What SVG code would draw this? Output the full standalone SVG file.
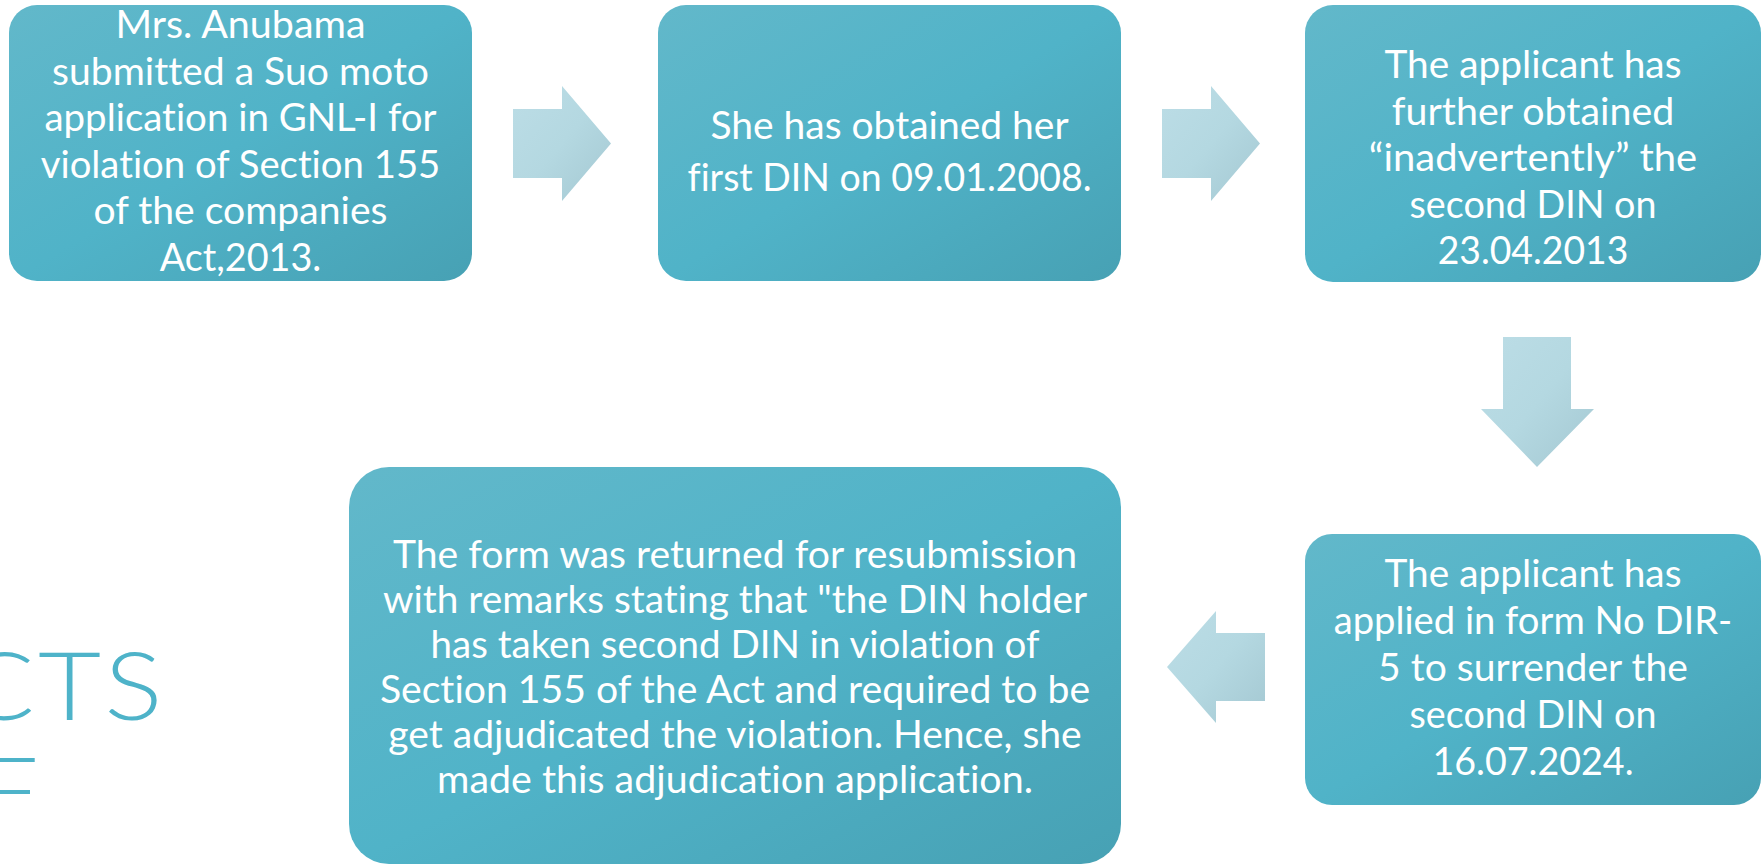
<svg xmlns="http://www.w3.org/2000/svg" width="1763" height="866" viewBox="0 0 1763 866">
  <defs>
    <linearGradient id="boxFill" x1="0" y1="0" x2="1" y2="1">
      <stop offset="0" stop-color="#62b8ca"/>
      <stop offset="0.5" stop-color="#50b3c8"/>
      <stop offset="1" stop-color="#47a1b4"/>
    </linearGradient>
    <linearGradient id="arrowFill" x1="0" y1="0" x2="1" y2="1">
      <stop offset="0" stop-color="#bcdde6"/>
      <stop offset="0.5" stop-color="#b4d8e1"/>
      <stop offset="1" stop-color="#a4c8d2"/>
    </linearGradient>
    <style>
      .box { fill: url(#boxFill); }
      .arrow { fill: url(#arrowFill); }
      .label { fill: #ffffff; font-family: Lato, "Liberation Sans", sans-serif; font-size: 38.5px; text-anchor: middle; font-variant-ligatures: none; }
      .title { fill: #4eb3c9; font-family: Lato, "Liberation Sans", sans-serif; font-weight: 300; font-size: 94px; text-anchor: end; }
    </style>
  </defs>

  <rect width="1763" height="866" fill="#ffffff"/>

  <!-- heading, partly past the left edge -->
  <g id="title">
    <text class="title" transform="translate(166,720) scale(1.16,1)" letter-spacing="3">FACTS</text>
    <text class="title" x="38" y="825">OF</text>
  </g>

  <!-- connectors -->
  <g id="connectors">
    <polygon class="arrow" points="513,109 562,109 562,86 611,143.5 562,201 562,178 513,178"/>
    <polygon class="arrow" points="1162,109 1211,109 1211,86 1260,143.5 1211,201 1211,178 1162,178"/>
    <polygon class="arrow" points="1503,337 1571,337 1571,409 1594,409 1537,467 1481,409 1503,409"/>
    <polygon class="arrow" points="1265,633 1265,701 1216,701 1216,723 1167,667 1216,611 1216,633"/>
  </g>

  <g id="node1">
    <rect class="box" x="9" y="5" width="463" height="276" rx="28"/>
    <text class="label" x="240.5" y="38" textLength="250" lengthAdjust="spacingAndGlyphs">Mrs. Anubama</text>
    <text class="label" x="240.5" y="84.5" textLength="377" lengthAdjust="spacingAndGlyphs">submitted a Suo moto</text>
    <text class="label" x="240.5" y="131" textLength="392" lengthAdjust="spacingAndGlyphs">application in GNL-I for</text>
    <text class="label" x="240.5" y="177.5" textLength="399.6" lengthAdjust="spacingAndGlyphs">violation of Section 155</text>
    <text class="label" x="240.5" y="224" textLength="294" lengthAdjust="spacingAndGlyphs">of the companies</text>
    <text class="label" x="240.5" y="270.5" textLength="161.6" lengthAdjust="spacingAndGlyphs">Act,2013.</text>
  </g>

  <g id="node2">
    <rect class="box" x="658" y="5" width="463" height="276" rx="28"/>
    <text class="label" x="889.5" y="139" textLength="358.2" lengthAdjust="spacingAndGlyphs">She has obtained her</text>
    <text class="label" x="889.5" y="191" textLength="404" lengthAdjust="spacingAndGlyphs">first DIN on 09.01.2008.</text>
  </g>

  <g id="node3">
    <rect class="box" x="1305" y="5" width="456" height="277" rx="28"/>
    <text class="label" x="1533" y="78" textLength="297" lengthAdjust="spacingAndGlyphs">The applicant has</text>
    <text class="label" x="1533" y="124.5" textLength="282.4" lengthAdjust="spacingAndGlyphs">further obtained</text>
    <text class="label" x="1533" y="171" textLength="328.3" lengthAdjust="spacingAndGlyphs">“inadvertently” the</text>
    <text class="label" x="1533" y="217.5" textLength="246.9" lengthAdjust="spacingAndGlyphs">second DIN on</text>
    <text class="label" x="1533" y="264" textLength="190.6" lengthAdjust="spacingAndGlyphs">23.04.2013</text>
  </g>

  <g id="node4">
    <rect class="box" x="1305" y="534" width="456" height="271" rx="27"/>
    <text class="label" x="1533" y="587" textLength="297" lengthAdjust="spacingAndGlyphs">The applicant has</text>
    <text class="label" x="1533" y="634" textLength="398.6" lengthAdjust="spacingAndGlyphs">applied in form No DIR-</text>
    <text class="label" x="1533" y="681" textLength="309.9" lengthAdjust="spacingAndGlyphs">5 to surrender the</text>
    <text class="label" x="1533" y="728" textLength="246.9" lengthAdjust="spacingAndGlyphs">second DIN on</text>
    <text class="label" x="1533" y="775" textLength="201.1" lengthAdjust="spacingAndGlyphs">16.07.2024.</text>
  </g>

  <g id="node5">
    <rect class="box" x="349" y="467" width="772" height="397" rx="40"/>
    <text class="label" x="735" y="568" textLength="684.2" lengthAdjust="spacingAndGlyphs">The form was returned for resubmission</text>
    <text class="label" x="735" y="613" textLength="704.1" lengthAdjust="spacingAndGlyphs">with remarks stating that "the DIN holder</text>
    <text class="label" x="735" y="658" textLength="608.8" lengthAdjust="spacingAndGlyphs">has taken second DIN in violation of</text>
    <text class="label" x="735" y="703" textLength="710.2" lengthAdjust="spacingAndGlyphs">Section 155 of the Act and required to be</text>
    <text class="label" x="735" y="748" textLength="693.5" lengthAdjust="spacingAndGlyphs">get adjudicated the violation. Hence, she</text>
    <text class="label" x="735" y="793" textLength="595.9" lengthAdjust="spacingAndGlyphs">made this adjudication application.</text>
  </g>
</svg>
